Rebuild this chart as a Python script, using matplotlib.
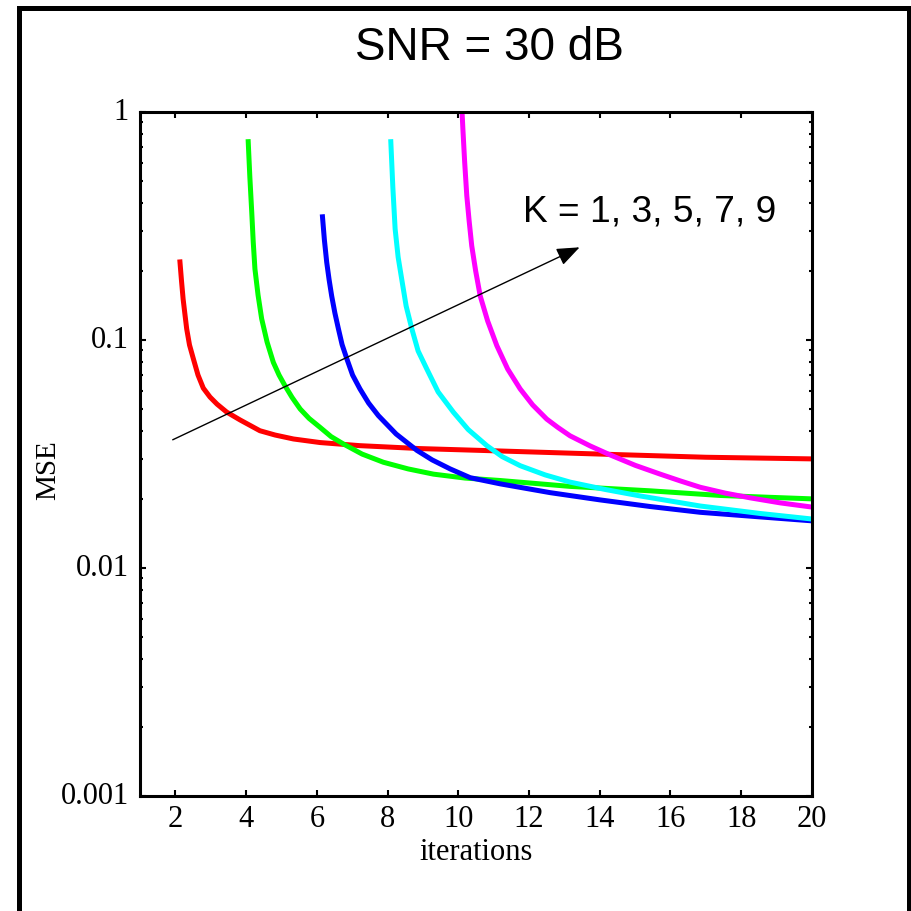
import matplotlib
matplotlib.use("Agg")
import matplotlib.pyplot as plt
import matplotlib.transforms as mtransforms
from matplotlib.patches import Rectangle

# curves (iterations, MSE)
red_x = [2.13, 2.174, 2.22, 2.273, 2.32, 2.40, 2.51, 2.64, 2.79, 2.98, 3.18, 3.45, 3.83,
         4.39, 4.82, 5.34, 6.09, 7.22, 8.92, 11.18, 14.0, 17.0, 20.0]
red_y = [0.220, 0.1815, 0.151, 0.1288, 0.112, 0.0951, 0.0826, 0.0702, 0.0615, 0.0562, 0.0523, 0.0483, 0.0446,
         0.040, 0.0383, 0.0368, 0.0355, 0.0344, 0.0334, 0.0326, 0.0316, 0.0306, 0.0301]

green_x = [4.06, 4.106, 4.16, 4.202, 4.25, 4.338, 4.44, 4.593, 4.77, 4.932, 5.10, 5.30, 5.53, 5.781,
           6.09, 6.403, 6.75, 7.28, 7.88, 8.581, 9.30, 10.19, 11.18, 13.16, 15.43, 17.41, 20.0]
green_y = [0.741, 0.519, 0.363, 0.269, 0.205, 0.1575, 0.124, 0.098, 0.0798, 0.0702, 0.063, 0.056, 0.0498, 0.0453,
           0.0414, 0.0377, 0.035, 0.0316, 0.0291, 0.0272, 0.0258, 0.0248, 0.0242, 0.0228, 0.0218, 0.0208, 0.0201]

blue_x = [6.16, 6.214, 6.28, 6.347, 6.42, 6.511, 6.61, 6.714, 6.85, 7.011, 7.22, 7.464, 7.74, 8.242,
          8.83, 9.26, 9.77, 10.335, 11.18, 12.60, 14.0, 15.43, 16.84, 18.54, 20.0]
blue_y = [0.347, 0.2746, 0.219, 0.184, 0.156, 0.1313, 0.112, 0.0955, 0.0826, 0.0702, 0.061, 0.0529, 0.0466, 0.0387,
          0.0328, 0.0298, 0.0272, 0.0249, 0.0234, 0.0214, 0.0199, 0.0186, 0.01755, 0.01675, 0.0161]

cyan_x = [8.092, 8.149, 8.214, 8.299, 8.40, 8.525, 8.686, 8.864, 9.11, 9.43, 9.863, 10.279, 10.808,
          11.24, 11.75, 12.457, 13.164, 14.154, 15.144, 16.842, 18.539, 20.0]
cyan_y = [0.741, 0.469, 0.307, 0.231, 0.185, 0.141, 0.112, 0.0895, 0.0746, 0.0592, 0.0482, 0.0405, 0.0344,
          0.0308, 0.0281, 0.0256, 0.0238, 0.0221, 0.0207, 0.0187, 0.01734, 0.0164]

magenta_x = [10.10, 10.13, 10.18, 10.24, 10.307, 10.38, 10.491, 10.62, 10.83, 11.09, 11.396, 11.75,
             12.103, 12.50, 12.811, 13.16, 13.73, 14.30, 15.003, 15.71, 16.276, 16.84, 17.549, 18.26, 19.105, 20.0]
magenta_y = [1.05, 0.842, 0.6036, 0.430, 0.3326, 0.259, 0.2009, 0.156, 0.1212, 0.0944, 0.0746, 0.061,
             0.0519, 0.045, 0.0414, 0.038, 0.0343, 0.0313, 0.0282, 0.0258, 0.0241, 0.0226, 0.0213, 0.0203, 0.0193, 0.0185]

xticks = [2, 4, 6, 8, 10, 12, 14, 16, 18, 20]
yticks = [0.001, 0.01, 0.1, 1]
ytick_labels = ["0.001", "0.01", "0.1", "1"]

serif = ["Liberation Serif", "DejaVu Serif"]
sans = ["Liberation Sans", "DejaVu Sans"]

fig = plt.figure(figsize=(9.12, 9.12), dpi=100)
ax = fig.add_axes([0.1535, 0.1261, 0.7368, 0.75])

lw = 3.6
ax.plot(red_x, red_y, color="#ff0000", lw=lw)
ax.plot(green_x, green_y, color="#00ff00", lw=lw)
ax.plot(blue_x, blue_y, color="#0000ff", lw=lw)
ax.plot(cyan_x, cyan_y, color="#00ffff", lw=lw)
ax.plot(magenta_x, magenta_y, color="#ff00ff", lw=lw)

ax.set_yscale("log")
ax.set_xlim(1, 20)
ax.set_ylim(0.001, 1)
ax.set_xticks(xticks)
ax.set_xticklabels([str(t) for t in xticks])
ax.set_yticks(yticks)
ax.set_yticklabels(ytick_labels)

ax.tick_params(which="both", direction="in", top=True, right=True, width=1.5)
ax.tick_params(which="major", length=4.5)
ax.tick_params(axis="x", which="major", pad=6)
ax.tick_params(axis="y", which="major", pad=8)
ax.tick_params(which="minor", length=2.5)
ax.tick_params(axis="x", which="minor", bottom=False, top=False)
for s in ax.spines.values():
    s.set_linewidth(2.2)

for lab in ax.get_xticklabels() + ax.get_yticklabels():
    lab.set_family(serif)
    lab.set_fontsize(22)
# y labels sit a little above their ticks in the reference
shift = mtransforms.ScaledTranslation(0, 4 / 100, fig.dpi_scale_trans)
for lab in ax.get_yticklabels():
    lab.set_transform(lab.get_transform() + shift)

ax.set_xlabel("iterations", family=serif, fontsize=22)
ax.xaxis.set_label_coords(0.5, -0.06)
ax.set_ylabel("MSE", family=serif, fontsize=21)
ax.yaxis.set_label_coords(-0.118, 0.478)

# arrow showing the order of K
ax.annotate("", xy=(13.43, 0.255), xytext=(1.925, 0.0365),
            arrowprops=dict(arrowstyle="-|>,head_length=1.4,head_width=0.55",
                            color="black", lw=1.0, shrinkA=0, shrinkB=0))
ax.text(11.83, 0.333, "K = 1, 3, 5, 7, 9", family=sans, fontsize=26.7,
        ha="left", va="baseline")

fig.text(489 / 912, 1 - 60 / 912, "SNR = 30 dB", family=sans, fontsize=33,
         ha="center", va="baseline")

# outer frame
fig.patches.append(Rectangle((18.5 / 912, -0.1), (909.5 - 18.5) / 912, 1.1 - 8.5 / 912,
                             transform=fig.transFigure, fill=False, ec="black",
                             lw=3.6, clip_on=False))

fig.savefig("out.png", dpi=100)
